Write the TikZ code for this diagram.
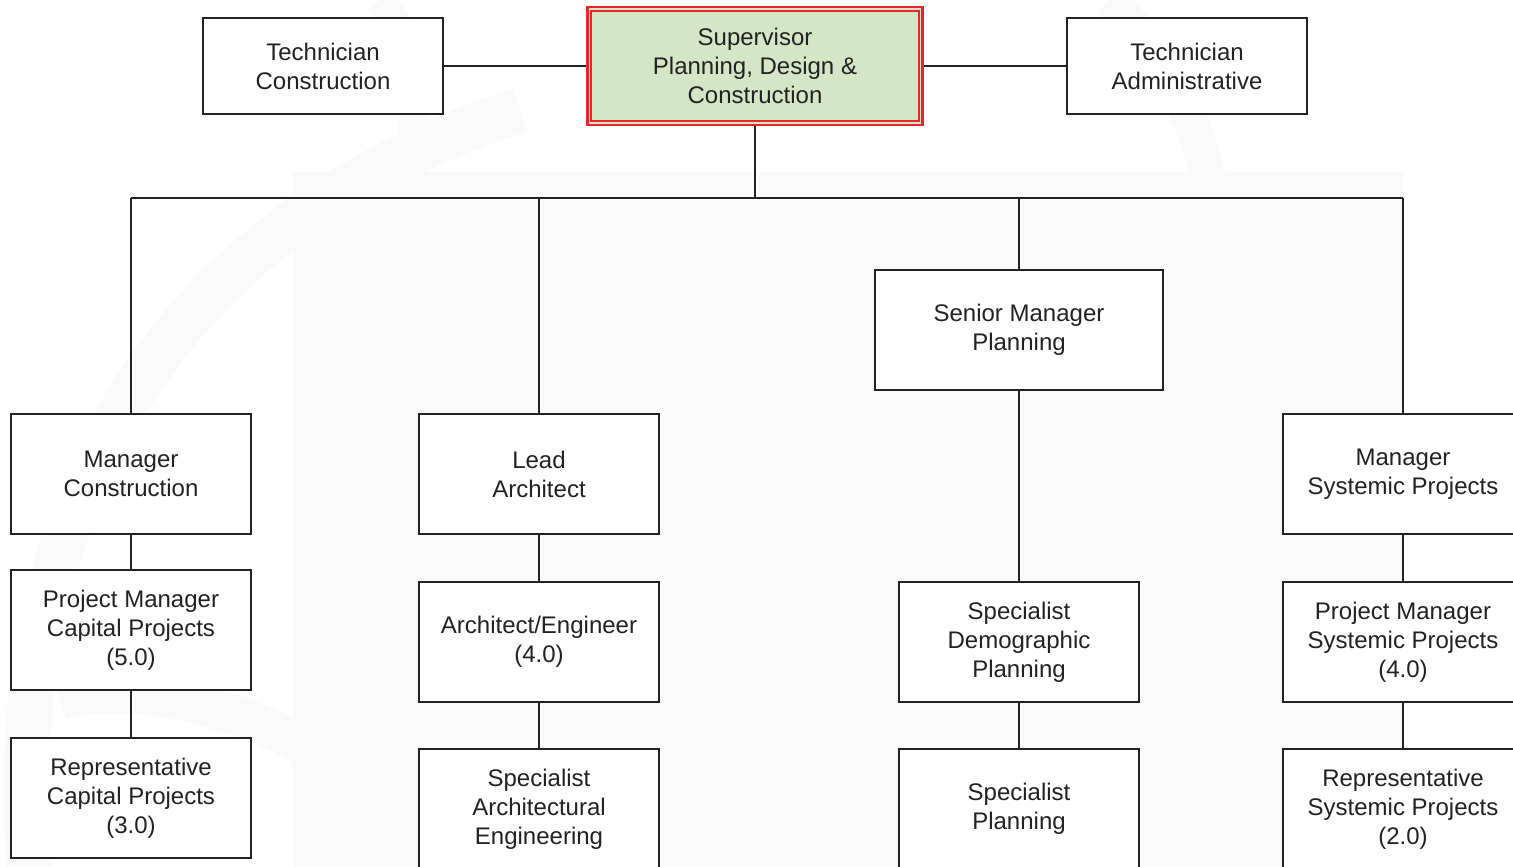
\documentclass[tikz,border=0pt]{standalone}
\usepackage{fontspec}
\setmainfont{Liberation Sans}
\definecolor{txt}{HTML}{222222}
\definecolor{supfill}{HTML}{D3E7C6}
\definecolor{supred}{HTML}{E8262B}
\definecolor{wm}{HTML}{FAFAFA}
\begin{document}
\begin{tikzpicture}[x=1pt,y=-1pt,
  box/.style={draw=txt, line width=1.8pt, fill=white, text=txt, align=center,
    minimum width=240pt, minimum height=120pt, inner sep=0pt,
    font=\fontsize{24}{29}\selectfont},
  conn/.style={draw=txt, line width=1.8pt}]
\clip (0,0) rectangle (1513,867);
\fill[white] (0,0) rectangle (1513,867);
% faint watermark
\fill[wm] (293,172) rectangle (1403,867);
\draw[wm, line width=45pt] (30,880) .. controls (0,520) and (150,230) .. (520,110);
\draw[wm, line width=30pt] (380,0) .. controls (480,120) and (330,250) .. (420,310);
\draw[wm, line width=35pt] (1110,0) .. controls (1250,150) and (1230,300) .. (1160,420);
\draw[wm, line width=40pt] (360,780) .. controls (250,700) and (120,680) .. (60,700);
% top row
\node[box, minimum height=96pt] (tc) at (323,66) {Technician\\Construction};
\node[box, minimum height=96pt] (ta) at (1187,66) {Technician\\Administrative};
\node[box, draw=supred, line width=2.6pt, fill=supfill, minimum width=335pt, minimum height=118pt] (sup) at (755,66) {Supervisor\\Planning, Design \&\\Construction};
\draw[supred, line width=1.8pt] ([shift={(5,5)}]sup.north west) rectangle ([shift={(-5,-5)}]sup.south east);
% column 1
\node[box] (mc) at (131,474) {Manager\\Construction};
\node[box] (pmc) at (131,630) {Project Manager\\Capital Projects\\(5.0)};
\node[box] (rc) at (131,798) {Representative\\Capital Projects\\(3.0)};
% column 2
\node[box] (la) at (539,474) {Lead\\Architect};
\node[box] (ae) at (539,642) {Architect/Engineer\\(4.0)};
\node[box] (sae) at (539,809) {Specialist\\Architectural\\Engineering};
% column 3
\node[box, minimum width=288pt] (smp) at (1019,330) {Senior Manager\\Planning};
\node[box] (sdp) at (1019,642) {Specialist\\Demographic\\Planning};
\node[box] (sp) at (1019,809) {Specialist\\Planning};
% column 4
\node[box] (ms) at (1403,474) {Manager\\Systemic Projects};
\node[box] (pms) at (1403,642) {Project Manager\\Systemic Projects\\(4.0)};
\node[box] (rs) at (1403,809) {Representative\\Systemic Projects\\(2.0)};
% connectors
\coordinate (busL) at (131,198);
\coordinate (busR) at (1403,198);
\draw[conn] (tc.east) -- (sup.west);
\draw[conn] (sup.east) -- (ta.west);
\draw[conn] (sup.south) -- (sup.south |- busL);
\draw[conn] (busL) -- (busR);
\draw[conn] (mc.north) -- (mc.north |- busL);
\draw[conn] (la.north) -- (la.north |- busL);
\draw[conn] (smp.north) -- (smp.north |- busL);
\draw[conn] (ms.north) -- (ms.north |- busL);
\draw[conn] (mc.south) -- (pmc.north);
\draw[conn] (pmc.south) -- (rc.north);
\draw[conn] (la.south) -- (ae.north);
\draw[conn] (ae.south) -- (sae.north);
\draw[conn] (smp.south) -- (sdp.north);
\draw[conn] (sdp.south) -- (sp.north);
\draw[conn] (ms.south) -- (pms.north);
\draw[conn] (pms.south) -- (rs.north);
\end{tikzpicture}
\end{document}
